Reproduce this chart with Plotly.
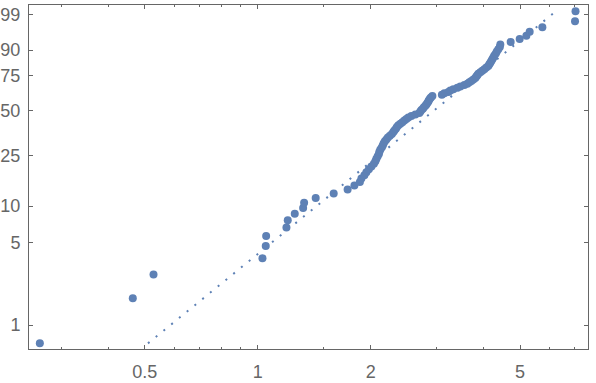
import numpy as np
import plotly.graph_objects as go

# Sorted sample values
values = [0.2626, 0.4645, 0.5275, 1.0293, 1.0503, 1.0529, 1.1925, 1.2021, 1.2549, 1.3211,
          1.3292, 1.4270, 1.5936, 1.7357, 1.8095, 1.8716, 1.8889, 1.9240, 1.9478, 1.9779,
          2.0085, 2.0395, 2.0583, 2.0710, 2.0876, 2.1030, 2.1095, 2.1224, 2.1421, 2.1552,
          2.1658, 2.1818, 2.2020, 2.2223, 2.2497, 2.2775, 2.2985, 2.3127, 2.3341, 2.3485,
          2.3702, 2.3994, 2.4290, 2.4590, 2.4893, 2.5200, 2.5668, 2.6306, 2.6958, 2.7124,
          2.7291, 2.7544, 2.7713, 2.7970, 2.8142, 2.8315, 2.8489, 2.8577, 2.8753, 2.8930,
          2.9197, 3.0950, 3.1429, 3.2208, 3.2605, 3.3211, 3.4035, 3.4667, 3.5527, 3.6187,
          3.6634, 3.7086, 3.7543, 3.8006, 3.8240, 3.8475, 3.8712, 3.9190, 3.9673, 4.0163,
          4.0658, 4.1159, 4.1413, 4.1667, 4.1924, 4.2182, 4.2442, 4.2703, 4.3098, 4.3363,
          4.3764, 4.4168, 4.4304, 4.7206, 4.9885, 5.1980, 5.3043, 5.7334, 7.0062, 7.0277]

# Reference Weibull fit (shape, scale)
fit_shape = 2.622
fit_scale = 3.384

# Axis ticks
y_tick_pct = [1, 5, 10, 25, 50, 75, 90, 99]
x_tick_vals = [0.5, 1, 2, 5]
x_tick_text = ["0.5", "1", "2", "5"]
x_minor_vals = [0.3, 0.4, 0.6, 0.7, 0.8, 0.9, 1.5, 3, 4, 6, 7]

BLUE = "#5E81B5"
GRAY = "#666666"


def weib(p):
    p = np.asarray(p, dtype=float)
    return np.log(-np.log(1.0 - p))


n = len(values)
ranks = np.arange(1, n + 1)
pos = (ranks - 0.3) / (n + 0.4)
yw = weib(pos)

# fit line from first to last plotting position
line_w = np.linspace(yw[0], yw[-1], 200)
line_x = fit_scale * np.exp(line_w / fit_shape)

fig = go.Figure()
fig.add_trace(go.Scatter(
    x=line_x, y=line_w, mode="lines",
    line=dict(color=BLUE, width=2, dash="2px,8px"),
    hoverinfo="skip", showlegend=False))
fig.add_trace(go.Scatter(
    x=values, y=yw, mode="markers",
    marker=dict(color=BLUE, size=8, line=dict(width=0)),
    showlegend=False))

fig.update_layout(
    width=596, height=383,
    margin=dict(l=29, r=8, t=5, b=34),
    paper_bgcolor="white", plot_bgcolor="white",
    font=dict(family="Liberation Sans, Arial, sans-serif", size=18, color=GRAY),
)
fig.update_xaxes(
    type="log", range=[np.log10(0.2457), np.log10(7.587)],
    automargin=False,
    showgrid=False, zeroline=False,
    showline=True, linecolor=GRAY, linewidth=1, mirror="allticks",
    ticks="inside", ticklen=4, tickwidth=1, tickcolor=GRAY,
    tickvals=x_tick_vals, ticktext=x_tick_text, ticklabelstandoff=6,
    minor=dict(tickvals=x_minor_vals, ticks="inside", ticklen=2, tickcolor=GRAY, showgrid=False),
)
fig.update_yaxes(
    range=[-5.074, 1.7247],
    automargin=False,
    showgrid=False, zeroline=False,
    showline=True, linecolor=GRAY, linewidth=1, mirror="allticks",
    ticks="inside", ticklen=4, tickwidth=1, tickcolor=GRAY,
    tickvals=list(weib(np.array(y_tick_pct) / 100.0)),
    ticktext=[str(v) for v in y_tick_pct], ticklabelstandoff=4,
)

fig.write_html("out.html")
